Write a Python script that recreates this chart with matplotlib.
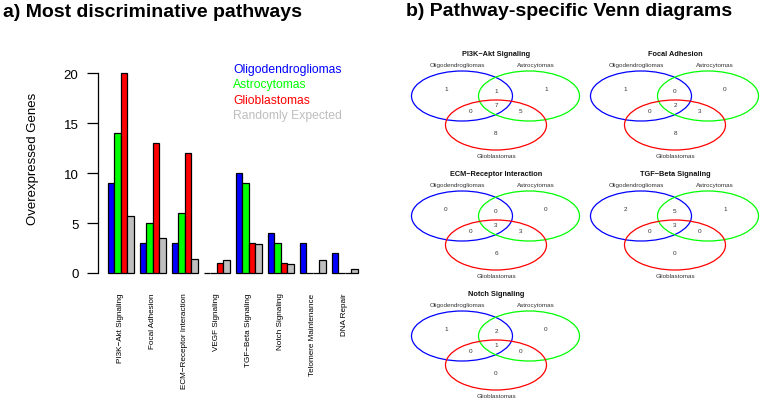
import matplotlib
matplotlib.use('Agg')
import matplotlib.pyplot as plt
from matplotlib.patches import Ellipse

plt.rcParams['font.family'] = ['Liberation Sans', 'DejaVu Sans']

# ---- data ----
pathways = ['PI3K\u2212Akt Signaling', 'Focal Adhesion', 'ECM\u2212Receptor Interaction',
            'VEGF Signaling', 'TGF\u2212Beta Signaling', 'Notch Signaling',
            'Telomere Maintenance', 'DNA Repair']
oligo = [9, 3, 3, 0, 10, 4, 3, 2]
astro = [14, 5, 6, 0, 9, 3, 0, 0]
glio = [20, 13, 12, 1, 3, 1, 0, 0]
random_expected = [5.7, 3.5, 1.4, 1.3, 2.9, 0.9, 1.3, 0.4]

series_names = ['Oligodendrogliomas', 'Astrocytomas', 'Glioblastomas', 'Randomly Expected']
series_colors = ['#0000FF', '#00FF00', '#FF0000', '#BEBEBE']

# venn region counts: A only, AB, B only, ABC, AC, BC, C only
venn_titles = ['PI3K\u2212Akt Signaling', 'Focal Adhesion', 'ECM\u2212Receptor Interaction',
               'TGF\u2212Beta Signaling', 'Notch Signaling']
venn_counts = [
    [1, 1, 1, 7, 0, 5, 8],
    [1, 0, 0, 2, 0, 3, 8],
    [0, 0, 0, 3, 0, 3, 6],
    [2, 5, 1, 3, 0, 0, 0],
    [1, 2, 0, 1, 0, 0, 0],
]

W, H = 763, 406
fig = plt.figure(figsize=(W / 100, H / 100), dpi=100)

def px_axes(x0, y0, x1, y1):
    # axes from pixel box (top-left origin)
    return fig.add_axes([x0 / W, 1 - y1 / H, (x1 - x0) / W, (y1 - y0) / H])

# ---- a) bar chart ----
ax = px_axes(98, 74.5, 364, 274)
all_vals = [oligo, astro, glio, random_expected]
for j, vals in enumerate(all_vals):
    xs = [5 * i + 1 + j + 0.5 for i in range(len(vals))]
    ax.bar(xs, vals, width=1, color=series_colors[j], edgecolor='black',
           linewidth=0.9, clip_on=False)
ax.set_xlim(-0.55, 41)
ax.set_ylim(0, 20)
for s in ['top', 'right', 'bottom']:
    ax.spines[s].set_visible(False)
ax.spines['left'].set_bounds(0, 20)
ax.spines['left'].set_linewidth(0.9)
ax.set_yticks([0, 5, 10, 15, 20])
ax.tick_params(axis='y', length=8, width=0.9, pad=6, labelsize=9.5)
ax.set_xticks([5 * i + 3 for i in range(len(pathways))])
ax.set_xticklabels(pathways, rotation=90, fontsize=5.9)
ax.tick_params(axis='x', length=0, pad=14)

fig.text(33 / W, 1 - 159 / H, 'Overexpressed Genes', rotation=90, fontsize=9.5,
         ha='center', va='center')

for k, (name, col) in enumerate(zip(series_names, series_colors)):
    fig.text(233 / W, 1 - (73 + 15.3 * k) / H, name, color=col, fontsize=8.75,
             ha='left', va='baseline')

fig.text(3 / W, 1 - 17 / H, 'a) Most discriminative pathways', fontsize=14,
         fontweight='bold', ha='left', va='baseline')
fig.text(406 / W, 1 - 16.5 / H, 'b) Pathway-specific Venn diagrams', fontsize=14,
         fontweight='bold', ha='left', va='baseline')

# ---- b) venn diagrams ----
venn_pos = [(496, 55), (675, 55), (496, 175), (675, 175), (496, 295)]
circle_off = [(-34, 42, '#0000FF'), (33, 42, '#00FF00'), (0, 71, '#FF0000')]
count_off = [(-50, 35), (0, 37), (50, 35), (0, 51), (-25, 57), (25, 57), (0, 79)]
txt = '#333333'

for (cx, ty), title, counts in zip(venn_pos, venn_titles, venn_counts):
    va = px_axes(cx - 105, ty - 10, cx + 105, ty + 110)
    va.set_xlim(-105, 105)
    va.set_ylim(110, -10)
    va.axis('off')
    for dx, dy, col in circle_off:
        va.add_patch(Ellipse((dx, dy), 101, 50, fill=False, edgecolor=col, linewidth=0.9))
    for (dx, dy), c in zip(count_off, counts):
        va.text(dx, dy, str(c), fontsize=4.6, ha='center', va='center', color=txt)
    va.text(0, 0, title, fontsize=5.3, fontweight='bold', ha='center', va='center', color='#111111')
    va.text(-39, 11, 'Oligodendrogliomas', fontsize=4.5, ha='center', va='center', color=txt)
    va.text(40, 11, 'Astrocytomas', fontsize=4.5, ha='center', va='center', color=txt)
    va.text(0, 102, 'Glioblastomas', fontsize=4.5, ha='center', va='center', color=txt)

fig.savefig('out.png', dpi=100)
